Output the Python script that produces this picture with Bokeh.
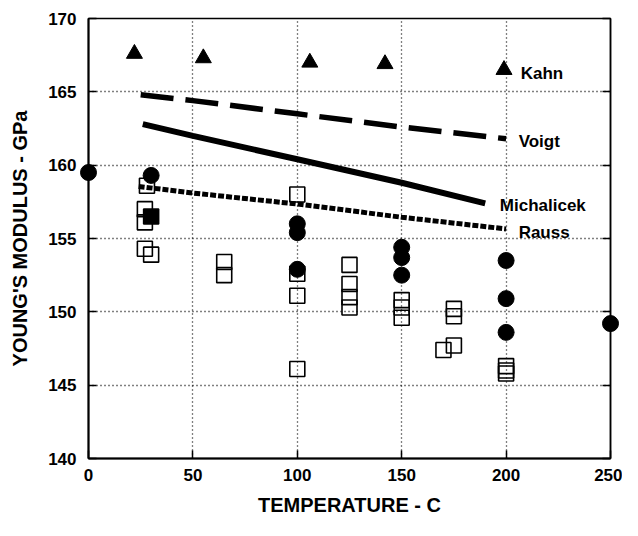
from bokeh.plotting import figure
from bokeh.models import Range1d, LinearAxis, FixedTicker
from bokeh.core.properties import value
from bokeh.embed import file_html
from bokeh.resources import INLINE

# ---- data ----
kahn_t = [22, 55, 106, 142, 199]
kahn_e = [167.6, 167.3, 167.0, 166.9, 166.5]

voigt_t = [25, 50, 100, 150, 200]
voigt_e = [164.8, 164.4, 163.5, 162.6, 161.8]

mich_t = [26, 50, 100, 150, 190]
mich_e = [162.8, 162.0, 160.4, 158.8, 157.4]

rauss_t = [24, 50, 100, 150, 200]
rauss_e = [158.55, 158.1, 157.35, 156.45, 155.65]

circ_t = [0, 30, 100, 100, 100, 150, 150, 150, 200, 200, 200, 250]
circ_e = [159.5, 159.3, 156.0, 155.4, 152.9, 154.4, 153.7, 152.5, 153.5, 150.9, 148.6, 149.2]

fsq_t = [30]
fsq_e = [156.5]

sq_t = [28, 27, 27, 27, 30, 65, 65, 100, 100, 100, 100, 125, 125, 125, 125,
        150, 150, 150, 170, 175, 175, 175, 200, 200, 200]
sq_e = [158.6, 157.0, 156.1, 154.3, 153.9, 153.4, 152.5, 158.0, 152.6, 151.1, 146.1,
        153.2, 151.9, 151.0, 150.3, 150.8, 150.3, 149.6, 147.4, 147.7, 150.2, 149.7,
        146.3, 146.0, 145.8]

x_ticks = [0, 50, 100, 150, 200, 250]
y_ticks = [140, 145, 150, 155, 160, 165, 170]

series_labels = ["Kahn", "Voigt", "Michalicek", "Rauss"]
label_t = [207, 206, 197, 206]
label_e = [166.25, 161.6, 157.25, 155.4]

x_title = "TEMPERATURE - C"
y_title = "YOUNG'S MODULUS - GPa"

FONT = "Liberation Sans"

p = figure(width=622, height=520, output_backend="svg", toolbar_location=None,
           x_range=Range1d(0, 250), y_range=Range1d(140, 170),
           min_border_left=88, min_border_right=12, min_border_top=18, min_border_bottom=62,
           background_fill_color="white", border_fill_color="white")

p.outline_line_color = "black"
p.outline_line_width = 1.5

for ax in (p.xaxis[0], p.yaxis[0]):
    ax.axis_line_width = 2
    ax.axis_line_color = "black"
    ax.major_tick_in = 8
    ax.major_tick_out = 0
    ax.major_tick_line_width = 1.5
    ax.minor_tick_line_color = None
    ax.major_label_text_font = FONT
    ax.major_label_text_font_style = "bold"
    ax.major_label_text_font_size = "17px"
    ax.major_label_text_color = "black"
    ax.axis_label_text_font = FONT
    ax.axis_label_text_font_style = "bold"
    ax.axis_label_text_font_size = "20px"
    ax.axis_label_text_color = "black"

p.xaxis[0].major_label_standoff = 10
p.xaxis[0].axis_label_standoff = 10
p.yaxis[0].major_label_standoff = 12
p.yaxis[0].axis_label_standoff = 14
p.xaxis[0].axis_label = x_title
p.yaxis[0].axis_label = y_title

p.xaxis[0].ticker = FixedTicker(ticks=x_ticks)
p.yaxis[0].ticker = FixedTicker(ticks=y_ticks)

rax = LinearAxis(ticker=FixedTicker(ticks=y_ticks), major_tick_in=8, major_tick_out=0,
                 major_tick_line_width=1.5, minor_tick_line_color=None,
                 major_label_text_alpha=0, major_label_text_font_size="1px",
                 axis_line_width=1.5, major_label_standoff=0)
p.add_layout(rax, "right")

p.xgrid.ticker = FixedTicker(ticks=[50, 100, 150, 200])
p.ygrid.ticker = FixedTicker(ticks=[145, 150, 155, 160, 165])
for g in (p.xgrid, p.ygrid):
    g.grid_line_color = "black"
    g.grid_line_dash = "1 3"
    g.grid_line_width = 1.3

# theory lines
p.line(voigt_t, voigt_e, line_color="black", line_width=5.5, line_dash="33 12")
p.line(mich_t, mich_e, line_color="black", line_width=6)
p.line(rauss_t, rauss_e, line_color="black", line_width=5, line_dash="6 2")

# data markers
p.scatter(sq_t, sq_e, marker="square", size=15, fill_color=None,
          line_color="black", line_width=1.6)
p.scatter(fsq_t, fsq_e, marker="square", size=15, fill_color="black",
          line_color="black", line_width=1.6)
p.scatter(circ_t, circ_e, marker="circle", size=16, fill_color="black",
          line_color="black", level="overlay")
p.scatter(kahn_t, kahn_e, marker="triangle", size=16, fill_color="black",
          line_color="black")

p.text(label_t, label_e, text=series_labels, text_font=value(FONT),
       text_font_style="bold", text_font_size="17px", text_baseline="middle",
       text_align="left", text_color="black")

open("out.html", "w").write(file_html(p, INLINE))
